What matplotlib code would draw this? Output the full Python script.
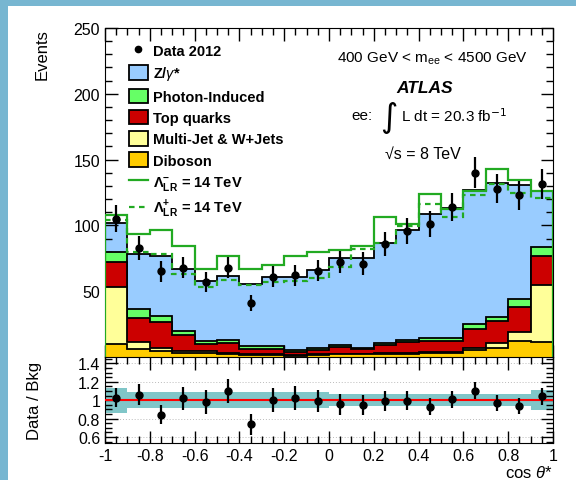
import numpy as np
import matplotlib
matplotlib.use("Agg")
import matplotlib.pyplot as plt
from matplotlib.patches import Patch, Rectangle
from matplotlib.lines import Line2D
from matplotlib.ticker import MultipleLocator, FuncFormatter

plt.rcParams['font.family'] = ['Liberation Sans', 'DejaVu Sans']
plt.rcParams['mathtext.fontset'] = 'custom'
plt.rcParams['mathtext.rm'] = 'Liberation Sans'
plt.rcParams['mathtext.it'] = 'Liberation Sans:italic'
plt.rcParams['mathtext.bf'] = 'Liberation Sans:bold'

# bins in cos theta*
edges = np.linspace(-1, 1, 21)

# stacked backgrounds (events per bin)
diboson = [10.0, 5.8, 4.8, 3.3, 3.3, 2.5, 1.8, 1.8, 1.0, 1.5,
           2.0, 2.0, 2.3, 2.5, 3.0, 3.3, 5.3, 7.1, 12.2, 11.6]
multijet = [43.0, 5.3, 1.8, 1.0, 1.3, 0.8, 0.7, 0.7, 0.5, 0.5,
            0.5, 0.5, 0.7, 0.8, 0.8, 0.7, 1.3, 3.3, 7.0, 43.1]
top = [19.4, 18.8, 20.0, 12.4, 5.3, 7.1, 3.8, 3.8, 2.3, 3.1,
       5.3, 3.5, 5.9, 8.4, 8.6, 8.4, 14.9, 16.7, 18.6, 22.0]
photon = [7.1, 6.6, 4.6, 3.3, 2.5, 2.3, 2.1, 2.1, 1.5, 1.7,
          1.6, 1.1, 1.5, 1.5, 1.8, 1.8, 3.6, 3.5, 6.5, 7.1]
drellyan = [22.5, 41.8, 45.8, 46.5, 45.6, 49.1, 47.1, 52.6, 55.2, 59.2,
            66.1, 67.9, 76.6, 83.3, 94.8, 98.8, 101.9, 101.4, 86.7, 42.2]

# signal hypotheses (total prediction)
lam_minus = [108, 93.5, 96.3, 84.6, 66.5, 76.7, 66.7, 69.9, 76.5, 79.5,
             81.3, 84.4, 106.6, 101, 123.6, 112.7, 126.5, 142.6, 134.5, 126]
lam_plus = [104, 80, 78.5, 63, 53, 58.4, 54.7, 57, 58, 60,
            68.2, 81.8, 86.3, 99.5, 116, 106.4, 122.9, 131.2, 124.3, 121]

# data
data = [105, 83, 65, 68, 57, 68, 41, 61, 62, 65.5,
        72, 71, 86, 96, 101, 114, 140, 128, 123, 131.5]

# relative systematic band in ratio panel
band = [0.135, 0.087, 0.087, 0.087, 0.087, 0.087, 0.087, 0.09, 0.09, 0.09,
        0.065, 0.065, 0.065, 0.065, 0.065, 0.065, 0.065, 0.065, 0.065, 0.11]

labels = ['Z/$\\gamma$*', 'Photon-Induced', 'Top quarks', 'Multi-Jet & W+Jets', 'Diboson']
colors = ['#99ccff', '#66ff66', '#cc0000', '#ffff99', '#ffcc00']
green = '#22aa22'


def fmt(v, pos):
    v = round(v, 6)
    if v == 0:
        return '0'
    return '%g' % v


centers = 0.5 * (edges[:-1] + edges[1:])
comps = [np.array(diboson), np.array(multijet), np.array(top),
         np.array(photon), np.array(drellyan)]
cum = np.cumsum(comps, axis=0)
total = cum[-1]
data = np.array(data)
derr = np.sqrt(data)

fig = plt.figure(figsize=(5.76, 4.81), dpi=100)
fig.patch.set_facecolor('#77b6d1')
fig.patches.append(Rectangle((8 / 576, 0), 1 - 8 / 576, 1 - 7 / 481, transform=fig.transFigure,
                             facecolor='white', edgecolor='none', zorder=-1))

ax = fig.add_axes([105 / 576, 1 - 358 / 481, 448 / 576, 329 / 481])
rax = fig.add_axes([105 / 576, 1 - 443.5 / 481, 448 / 576, 85.5 / 481])

# stack, top layer first
stack_cols = colors[::-1]
for i in range(4, -1, -1):
    ax.stairs(cum[i], edges, fill=True, facecolor=stack_cols[i], edgecolor='none', zorder=1 + (4 - i))
    ax.stairs(cum[i], edges, color='black', lw=1.3, baseline=None, zorder=1.5 + (4 - i))

ax.stairs(lam_minus, edges, color=green, lw=1.6, zorder=8)
ax.stairs(lam_plus, edges, color=green, lw=1.6, ls=(0, (2.5, 2)), baseline=None, zorder=8)
ax.errorbar(centers, data, yerr=derr, fmt='o', color='black', ms=5, elinewidth=1.6,
            capsize=0, zorder=10)

ax.set_xlim(-1, 1)
ax.set_ylim(0, 250)
ax.xaxis.set_major_locator(MultipleLocator(0.2))
ax.xaxis.set_minor_locator(MultipleLocator(0.05))
ax.yaxis.set_major_locator(MultipleLocator(50))
ax.yaxis.set_minor_locator(MultipleLocator(10))
ax.yaxis.set_major_formatter(FuncFormatter(lambda v, p: '' if v < 1 else '%d' % v))
ax.tick_params(which='both', direction='in', top=True, right=True, labelsize=11.5)
ax.tick_params(which='major', length=9, width=1)
ax.tick_params(which='minor', length=5, width=1)
ax.tick_params(axis='x', labelbottom=False)
ax.set_ylabel('Events', fontsize=12)
ax.yaxis.set_label_coords(-0.14, 1.0)
ax.yaxis.label.set_va('center')
ax.yaxis.label.set_ha('right')

# legend
handles = [Line2D([], [], marker='o', color='black', ls='none', ms=4.5)]
for c in colors:
    handles.append(Patch(facecolor=c, edgecolor='black', lw=1.3))
handles.append(Line2D([], [], color=green, lw=1.6))
handles.append(Line2D([], [], color=green, lw=1.6, ls=(0, (2.5, 2))))
leg_labels = ['Data 2012'] + labels + [r'$\mathbf{\Lambda^{-}_{LR}}$ = 14 TeV',
                                        r'$\mathbf{\Lambda^{+}_{LR}}$ = 14 TeV']
leg = ax.legend(handles, leg_labels, loc='upper left', bbox_to_anchor=(0.03, 0.985),
                frameon=False, handlelength=1.3, handleheight=1.15, handletextpad=0.35,
                labelspacing=0.42, borderpad=0.2, prop={'weight': 'bold', 'size': 10.5})

ax.text(0.73, 0.91, r'400 GeV < m$_{\rm ee}$ < 4500 GeV', transform=ax.transAxes,
        ha='center', va='center', fontsize=11)
ax.text(0.65, 0.82, 'ATLAS', transform=ax.transAxes, ha='left', va='center',
        fontsize=12.5, fontweight='bold', fontstyle='italic')
ax.text(0.573, 0.735, 'ee:', transform=ax.transAxes, ha='center', va='center', fontsize=11)
ax.text(0.633, 0.73, '\u222b', transform=ax.transAxes, ha='center', va='center',
        fontsize=24, family='DejaVu Sans')
ax.text(0.66, 0.735, r'L dt = 20.3 fb$^{\mathsf{-1}}$', transform=ax.transAxes,
        ha='left', va='center', fontsize=11)
ax.text(0.625, 0.62, '\u221as = 8 TeV', transform=ax.transAxes, ha='left', va='center',
        fontsize=11.5)

# ratio panel
ratio = data / total
rerr = derr / total
band = np.array(band)
rax.stairs(1 + band, edges, baseline=1 - band, fill=True, color='#80c6c8', lw=0)
rax.axhline(1, color='red', lw=1.5, zorder=3)
for g in [0.6, 0.8, 1.2, 1.4]:
    rax.axhline(g, color='#bbbbbb', lw=0.7, ls=(0, (1, 2)), zorder=1)
rax.errorbar(centers, ratio, yerr=rerr, fmt='o', color='black', ms=5, elinewidth=1.6,
             capsize=0, zorder=5)
rax.set_xlim(-1, 1)
rax.set_ylim(0.54, 1.47)
rax.xaxis.set_major_locator(MultipleLocator(0.2))
rax.xaxis.set_minor_locator(MultipleLocator(0.05))
rax.yaxis.set_major_locator(MultipleLocator(0.2))
rax.yaxis.set_minor_locator(MultipleLocator(0.05))
rax.xaxis.set_major_formatter(FuncFormatter(fmt))
rax.yaxis.set_major_formatter(FuncFormatter(fmt))
rax.tick_params(which='both', direction='in', top=True, right=True, labelsize=11.5)
rax.tick_params(which='major', length=9, width=1)
rax.tick_params(which='minor', length=5, width=1)
rax.tick_params(axis='x', pad=4)
rax.set_ylabel('Data / Bkg', fontsize=12)
rax.yaxis.set_label_coords(-0.14, 0.5)
rax.set_xlabel(r'cos $\theta$*', fontsize=12, loc='right', labelpad=1)

fig.savefig('out.png', dpi=100, facecolor=fig.get_facecolor())
